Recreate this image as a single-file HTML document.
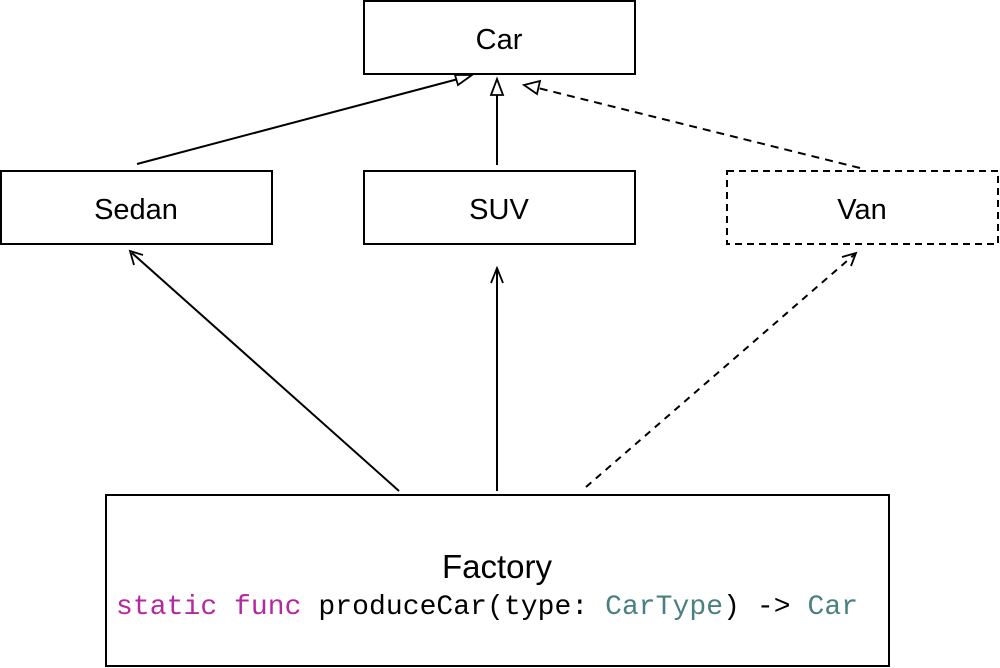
<!DOCTYPE html>
<html><head><meta charset="utf-8"><style>
html,body{margin:0;padding:0;background:#fff;width:1000px;height:668px;overflow:hidden}
</style></head><body>
<svg width="1000" height="668" viewBox="0 0 1000 668" xmlns="http://www.w3.org/2000/svg">
<g fill="#fff" stroke="#000" stroke-width="2">
<rect x="364" y="1" width="271" height="73"/>
<rect x="1" y="171" width="271" height="73"/>
<rect x="364" y="171" width="271" height="73"/>
<rect x="727" y="171" width="271" height="73" stroke-dasharray="7,5"/>
<rect x="106" y="495" width="783" height="171"/>
</g>
<g stroke="#000" stroke-width="2" fill="none">
<line x1="137" y1="164" x2="462" y2="78"/>
<line x1="497" y1="165" x2="497" y2="92"/>
<line x1="860" y1="168" x2="538" y2="88" stroke-dasharray="8,6"/>
<line x1="399" y1="491" x2="132" y2="253"/>
<line x1="497" y1="491" x2="497" y2="270"/>
<line x1="586" y1="487" x2="855" y2="254" stroke-dasharray="7,6"/>
<polyline points="134,265 130,251 143,255" stroke-width="1.8"/>
<polyline points="491,283 497,268 503,283" stroke-width="1.8"/>
<polyline points="842,257 856,253 851,266" stroke-width="1.8"/>
</g>
<g fill="#fff" stroke="#000" stroke-width="1.8">
<polygon points="472,75 455,75 458,85"/>
<polygon points="497,79 491,95 503,95"/>
<polygon points="524,85 540,81 537,94"/>
</g>
<g font-family="'Liberation Sans',sans-serif" font-size="29" text-anchor="middle" fill="#000">
<text x="499" y="49">Car</text>
<text x="136" y="219">Sedan</text>
<text x="499" y="219">SUV</text>
<text x="862" y="219">Van</text>
<text x="497" y="578" font-size="33">Factory</text>
</g>
<text x="116" y="614" font-family="'Liberation Mono',monospace" font-size="28" textLength="742" lengthAdjust="spacing" fill="#000" xml:space="preserve"><tspan fill="#b4299f">static func</tspan> produceCar(type: <tspan fill="#4a8080">CarType</tspan>) -&gt; <tspan fill="#4a8080">Car</tspan></text>
</svg>
</body></html>
